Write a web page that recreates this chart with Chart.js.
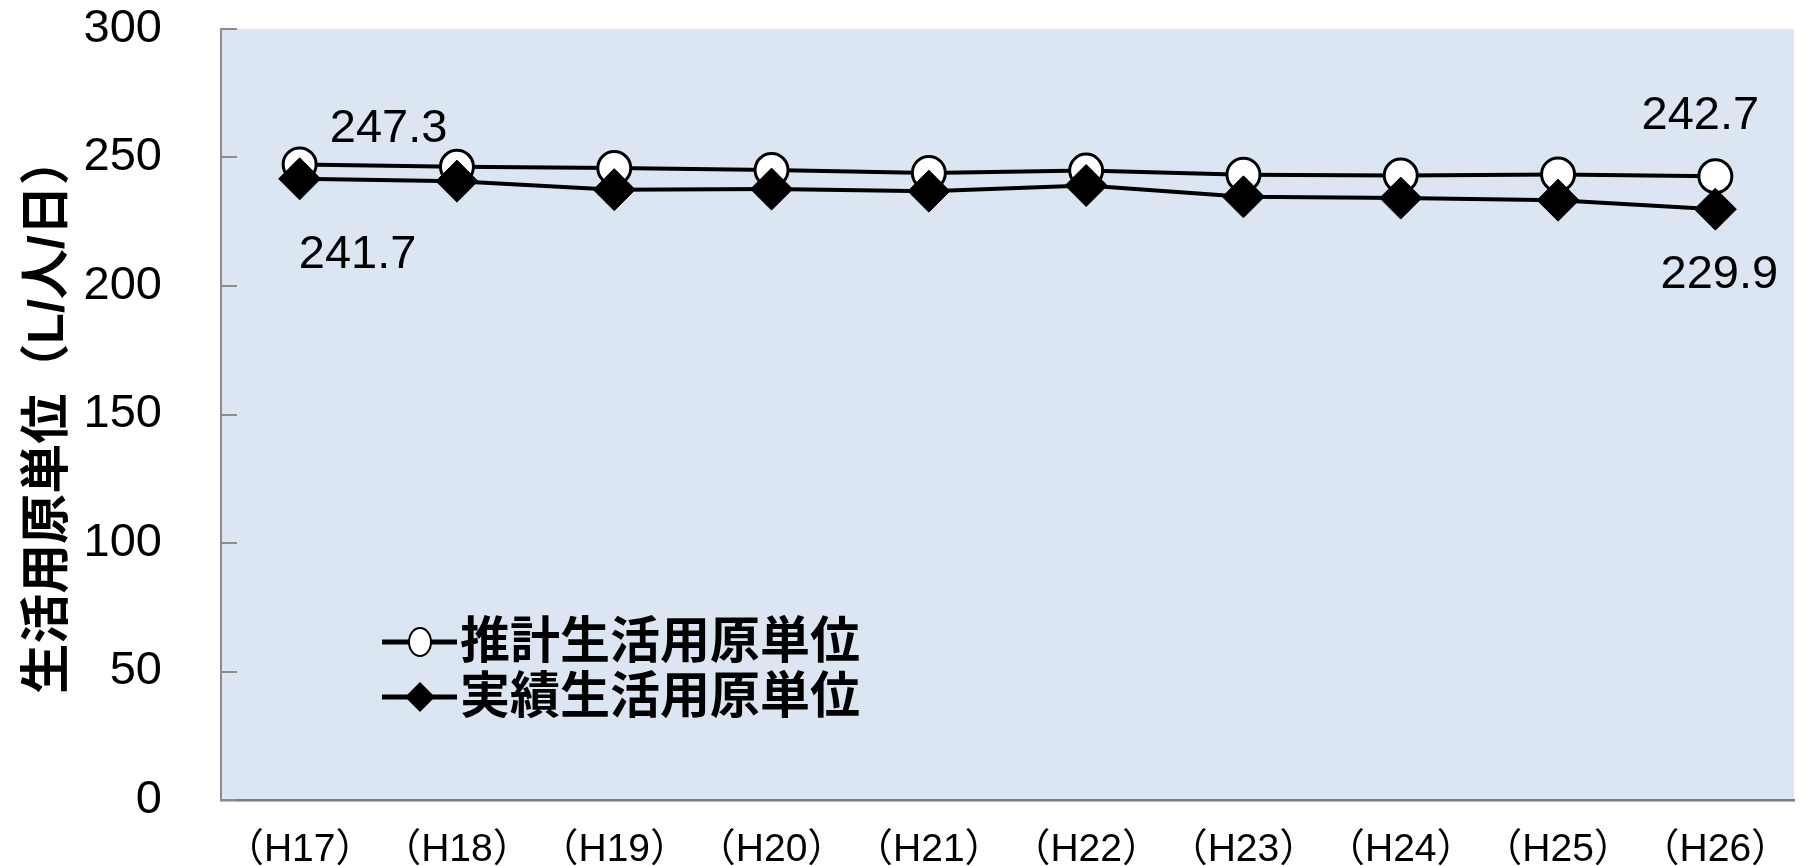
<!DOCTYPE html>
<html>
<head>
<meta charset="utf-8">
<script src="https://cdn.jsdelivr.net/npm/chart.js@4.4.1/dist/chart.umd.min.js"></script>
<style>
  body { margin: 0; background: #fff; }
  #wrap { width: 1816px; height: 866px; position: relative; }
</style>
</head>
<body>
<div id="wrap"><canvas id="lineChart"></canvas></div>
<script>
// categories and values
const years = ['（H17）', '（H18）', '（H19）', '（H20）', '（H21）', '（H22）', '（H23）', '（H24）', '（H25）', '（H26）'];
const estimated = [247.3, 246.4, 245.9, 245.1, 244.0, 244.9, 243.3, 243.0, 243.4, 242.7];
const actual = [241.7, 240.8, 237.5, 237.7, 236.9, 239.1, 234.7, 234.2, 233.4, 229.9];
const yTicks = [0, 50, 100, 150, 200, 250, 300];
const seriesNames = ['推計生活用原単位', '実績生活用原単位'];
const yTitle = '生活用原単位（L/人/日）';

const latin = '"Liberation Sans", Arial, "Noto Sans CJK JP", sans-serif';
const cjk = '"Liberation Sans", "Noto Sans CJK JP", sans-serif';

// light blue plot area
const plotBg = {
    id: 'plotBg',
    beforeDraw(chart) {
        const a = chart.chartArea, ctx = chart.ctx;
        ctx.save();
        ctx.fillStyle = '#dce6f2';
        ctx.fillRect(a.left, a.top, a.right - a.left, a.bottom - a.top);
        ctx.restore();
    }
};

// short ticks on the inside of the y axis
const innerTicks = {
    id: 'innerTicks',
    beforeDatasetsDraw(chart) {
        const y = chart.scales.y, ctx = chart.ctx, left = chart.chartArea.left;
        ctx.save();
        ctx.strokeStyle = '#8c8c8c';
        ctx.lineWidth = 2;
        yTicks.forEach(v => {
            const py = Math.round(y.getPixelForValue(v));
            ctx.beginPath();
            ctx.moveTo(left, py);
            ctx.lineTo(left + 16, py);
            ctx.stroke();
        });
        ctx.restore();
    }
};

// value labels on first and last points
const endLabels = {
    id: 'endLabels',
    afterDatasetsDraw(chart) {
        const ctx = chart.ctx;
        const offsets = [
            [[89, -35], [-15, -60]],
            [[58, 76], [4, 66]]
        ];
        ctx.save();
        ctx.font = '47px ' + latin;
        ctx.fillStyle = '#000';
        ctx.textAlign = 'center';
        ctx.textBaseline = 'middle';
        [estimated, actual].forEach((vals, di) => {
            const pts = chart.getDatasetMeta(di).data;
            [0, vals.length - 1].forEach((idx, k) => {
                const p = pts[idx];
                ctx.fillText(vals[idx].toFixed(1), p.x + offsets[di][k][0], p.y + offsets[di][k][1]);
            });
        });
        ctx.restore();
    }
};

// legend inside the plot
const innerLegend = {
    id: 'innerLegend',
    afterDraw(chart) {
        const ctx = chart.ctx;
        const rows = [642, 697];
        ctx.save();
        rows.forEach((ry, i) => {
            ctx.strokeStyle = '#000';
            ctx.lineWidth = 5;
            ctx.beginPath();
            ctx.moveTo(382, ry);
            ctx.lineTo(457, ry);
            ctx.stroke();
            ctx.beginPath();
            if (i === 0) {
                ctx.ellipse(420, ry, 11, 14, 0, 0, Math.PI * 2);
                ctx.fillStyle = '#fff';
                ctx.fill();
                ctx.lineWidth = 2;
                ctx.stroke();
            } else {
                ctx.moveTo(420, ry - 15);
                ctx.lineTo(435, ry);
                ctx.lineTo(420, ry + 15);
                ctx.lineTo(405, ry);
                ctx.closePath();
                ctx.fillStyle = '#000';
                ctx.fill();
            }
            ctx.fillStyle = '#000';
            ctx.font = 'bold 50px ' + cjk;
            ctx.textAlign = 'left';
            ctx.textBaseline = 'middle';
            ctx.fillText(seriesNames[i], 460, ry + 2);
        });
        ctx.restore();
    }
};

new Chart(document.getElementById('lineChart'), {
    type: 'line',
    data: {
        labels: years,
        datasets: [
            {
                label: seriesNames[0],
                data: estimated,
                order: 1,
                borderColor: '#000',
                borderWidth: 4,
                tension: 0,
                pointStyle: 'circle',
                pointRadius: 16.5,
                pointBackgroundColor: '#fff',
                pointBorderColor: '#000',
                pointBorderWidth: 3
            },
            {
                label: seriesNames[1],
                data: actual,
                order: 0,
                borderColor: '#000',
                borderWidth: 4,
                tension: 0,
                pointStyle: 'rectRot',
                pointRadius: 21,
                pointBackgroundColor: '#000',
                pointBorderColor: '#000',
                pointBorderWidth: 1
            }
        ]
    },
    options: {
        responsive: true,
        maintainAspectRatio: false,
        animation: false,
        events: [],
        layout: { padding: { top: 29, right: 4, bottom: 0, left: 0 } },
        plugins: {
            legend: { display: false },
            tooltip: { enabled: false }
        },
        scales: {
            x: {
                offset: true,
                grid: { display: false },
                border: { display: true, color: '#7a7a7a', width: 2.5 },
                ticks: {
                    color: '#000',
                    padding: 23,
                    maxRotation: 0,
                    autoSkip: false,
                    font: { family: cjk, size: 39, lineHeight: 1 }
                },
                afterFit(scale) { scale.height = 66; }
            },
            y: {
                min: 0,
                max: 300,
                afterBuildTicks(scale) { scale.ticks = yTicks.map(v => ({ value: v })); },
                grid: { display: false, drawTicks: false },
                border: { display: true, color: '#8c8c8c', width: 2 },
                ticks: {
                    color: '#000',
                    padding: 59,
                    font: { family: latin, size: 47, lineHeight: 1.2 }
                },
                title: {
                    display: true,
                    text: yTitle,
                    color: '#000',
                    padding: { top: 19, bottom: 0 },
                    font: { family: cjk, size: 50, weight: 'bold', lineHeight: 1.2 }
                },
                afterFit(scale) {
                    scale.width = 221;
                    scale.paddingTop = 0;
                    scale.paddingBottom = 0;
                }
            }
        }
    },
    plugins: [plotBg, innerTicks, endLabels, innerLegend]
});
</script>
</body>
</html>
